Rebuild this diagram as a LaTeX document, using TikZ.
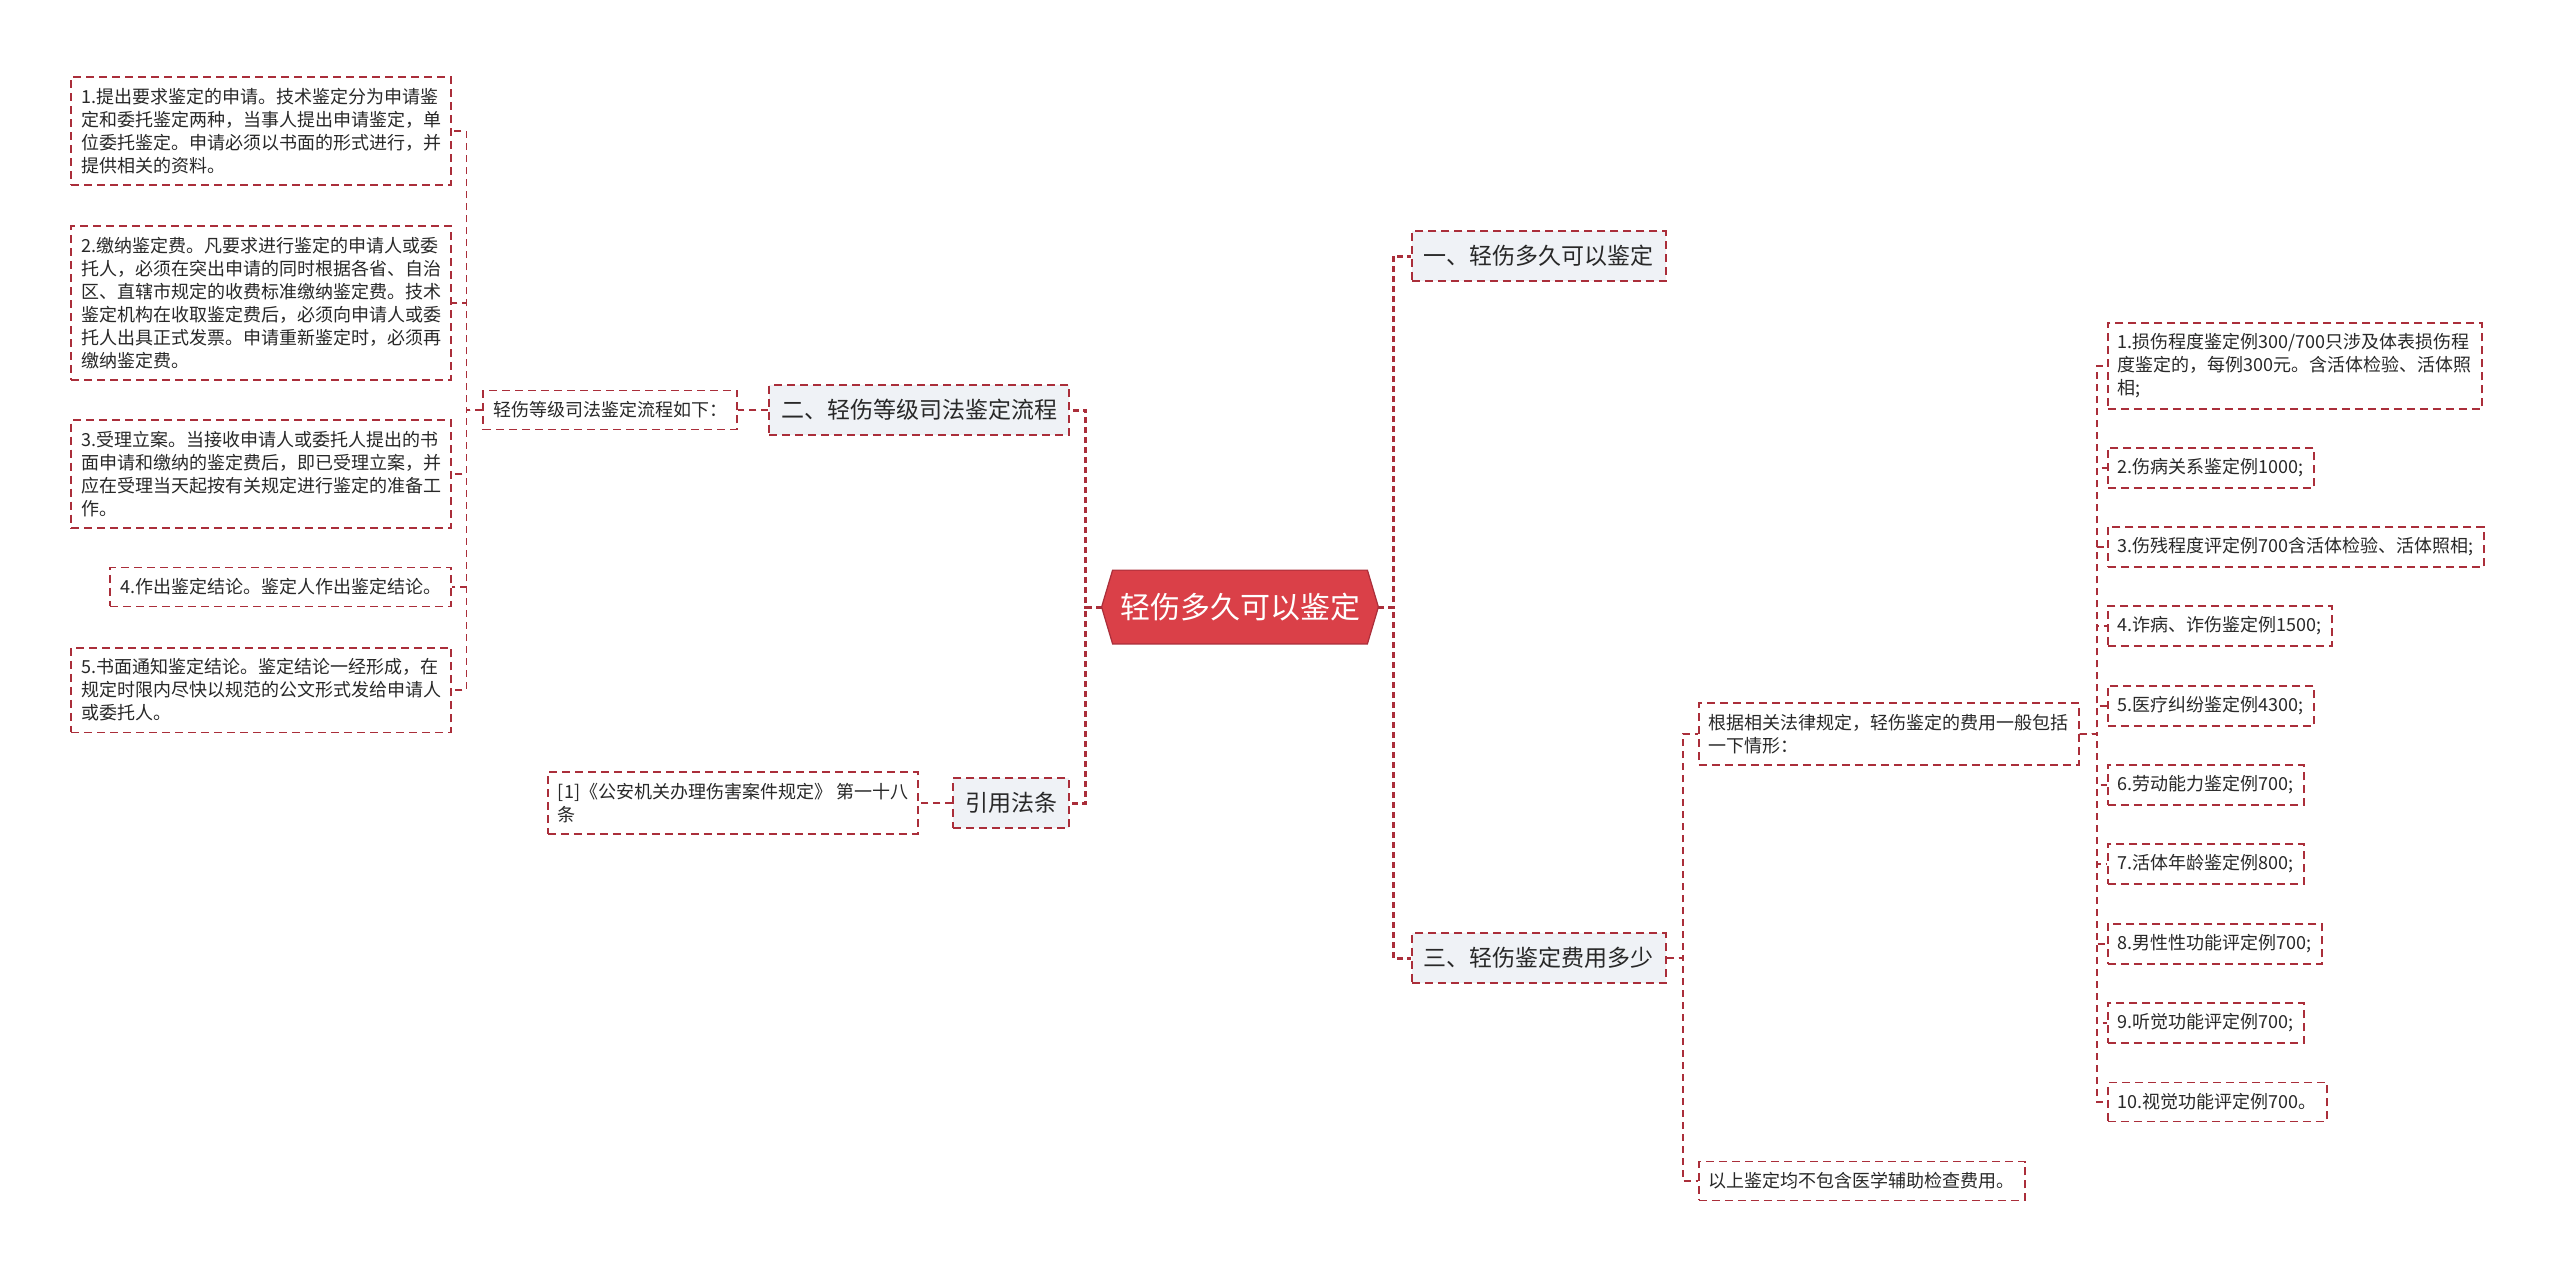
\documentclass[tikz,border=0pt]{standalone}
\usepackage{fontspec}
\setmainfont{Noto Sans CJK SC}
\usetikzlibrary{backgrounds}
\definecolor{mmred}{RGB}{218,64,72}
\definecolor{mmedge}{RGB}{170,46,58}
\definecolor{mmgray}{RGB}{239,242,246}
\definecolor{mmtext}{RGB}{40,40,40}
\tikzset{
  box/.style={draw=mmedge,dash pattern=on 4pt off 2.5pt,line width=0.85pt,fill=white,
    inner xsep=5pt,inner ysep=5.5pt,align=left,text=mmtext,
    font=\fontsize{9pt}{11.5pt}\selectfont},
  topic/.style={box,fill=mmgray,inner xsep=6pt,inner ysep=7pt,
    font=\fontsize{11.5pt}{14pt}\selectfont},
  link/.style={draw=mmedge,dash pattern=on 3.5pt off 2.5pt,line width=0.8pt},
  mainlink/.style={link,dash pattern=on 3pt off 2pt,line width=1.5pt},
}

\begin{document}
\begin{tikzpicture}[x=0.5pt,y=-0.5pt]
  \useasboundingbox (0,0) rectangle (2560,1279);
  \node[text=white,font=\fontsize{15pt}{18pt}\selectfont,minimum width=127pt,minimum height=36.5pt]
    (root) at (1240,607) {轻伤多久可以鉴定};
  \begin{scope}[on background layer]
    \fill[white] (0,0) rectangle (2560,1279);
    \filldraw[fill=mmred,draw=mmedge,line width=0.6pt]
      ([xshift=-5.5pt]root.west) coordinate (rootL) -- (root.north west) -- (root.north east)
      -- ([xshift=5.5pt]root.east) coordinate (rootR) -- (root.south east) -- (root.south west) -- cycle;
  \end{scope}

  \node[topic,anchor=west] (one) at (1411,256) {一、轻伤多久可以鉴定};
  \node[topic,anchor=west] (three) at (1411,958) {三、轻伤鉴定费用多少};
  \node[topic,anchor=east] (two) at (1070,410) {二、轻伤等级司法鉴定流程};
  \node[topic,anchor=east] (cite) at (1070,803) {引用法条};

  \node[box,anchor=east] (flow) at (738,410) {轻伤等级司法鉴定流程如下：};
  \node[box,anchor=east] (law) at (919,803) {[1]《公安机关办理伤害案件规定》 第一十八\\条};

  \node[box,anchor=east] (s1) at (452,131) {1.提出要求鉴定的申请。技术鉴定分为申请鉴\\定和委托鉴定两种，当事人提出申请鉴定，单\\位委托鉴定。申请必须以书面的形式进行，并\\提供相关的资料。};
  \node[box,anchor=east] (s2) at (452,303) {2.缴纳鉴定费。凡要求进行鉴定的申请人或委\\托人，必须在突出申请的同时根据各省、自治\\区、直辖市规定的收费标准缴纳鉴定费。技术\\鉴定机构在收取鉴定费后，必须向申请人或委\\托人出具正式发票。申请重新鉴定时，必须再\\缴纳鉴定费。};
  \node[box,anchor=east] (s3) at (452,474) {3.受理立案。当接收申请人或委托人提出的书\\面申请和缴纳的鉴定费后，即已受理立案，并\\应在受理当天起按有关规定进行鉴定的准备工\\作。};
  \node[box,anchor=east] (s4) at (452,587) {4.作出鉴定结论。鉴定人作出鉴定结论。};
  \node[box,anchor=east] (s5) at (452,690) {5.书面通知鉴定结论。鉴定结论一经形成，在\\规定时限内尽快以规范的公文形式发给申请人\\或委托人。};

  \node[box,anchor=west] (rule) at (1698,734) {根据相关法律规定，轻伤鉴定的费用一般包括\\一下情形：};
  \node[box,anchor=west] (note) at (1698,1181) {以上鉴定均不包含医学辅助检查费用。};

  \node[box,anchor=west] (f1) at (2107,366) {1.损伤程度鉴定例300/700只涉及体表损伤程\\度鉴定的，每例300元。含活体检验、活体照\\相;};
  \node[box,anchor=west] (f2) at (2107,468) {2.伤病关系鉴定例1000;};
  \node[box,anchor=west] (f3) at (2107,547) {3.伤残程度评定例700含活体检验、活体照相;};
  \node[box,anchor=west] (f4) at (2107,626) {4.诈病、诈伤鉴定例1500;};
  \node[box,anchor=west] (f5) at (2107,706) {5.医疗纠纷鉴定例4300;};
  \node[box,anchor=west] (f6) at (2107,785) {6.劳动能力鉴定例700;};
  \node[box,anchor=west] (f7) at (2107,864) {7.活体年龄鉴定例800;};
  \node[box,anchor=west] (f8) at (2107,944) {8.男性性功能评定例700;};
  \node[box,anchor=west] (f9) at (2107,1023) {9.听觉功能评定例700;};
  \node[box,anchor=west] (f10) at (2107,1102) {10.视觉功能评定例700。};

  \foreach \b in {one,three}
    \draw[mainlink] (rootR) -- ++(7.5pt,0) |- (\b.west);
  \foreach \b in {two,cite}
    \draw[mainlink] (rootL) -- ++(-8pt,0) |- (\b.east);
  \draw[link] (two.west) -- (flow.east);
  \draw[link] (cite.west) -- (law.east);
  \foreach \i in {1,...,5}
    \draw[link] (flow.west) -- ++(-8pt,0) |- (s\i.east);
  \foreach \b in {rule,note}
    \draw[link] (three.east) -- ++(8pt,0) |- (\b.west);
  \foreach \i in {1,...,10}
    \draw[link] (rule.east) -- ++(8.5pt,0) |- (f\i.west);
\end{tikzpicture}
\end{document}
